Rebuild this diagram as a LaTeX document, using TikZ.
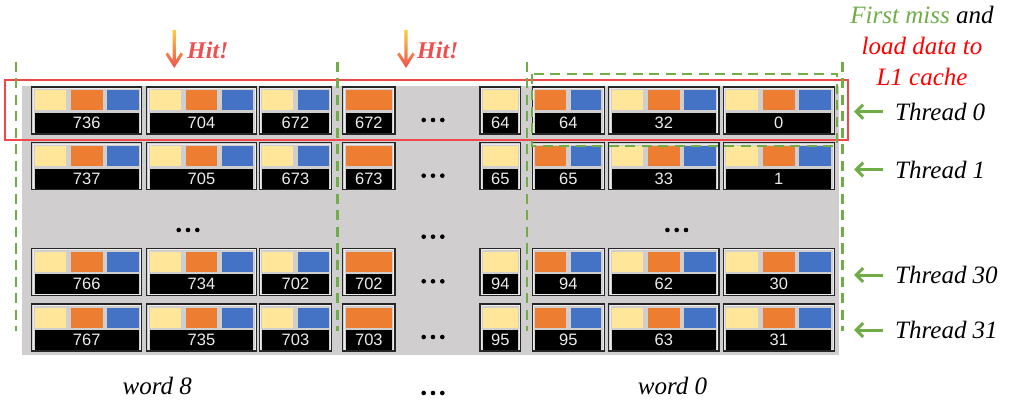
\documentclass[tikz,border=0pt]{standalone}
\usepackage{fontspec}
\setmainfont{Liberation Serif}
\newfontfamily\numfont{Liberation Sans}
\usetikzlibrary{arrows.meta}
\definecolor{cy}{HTML}{FFE699}
\definecolor{co}{HTML}{ED7D31}
\definecolor{cb}{HTML}{4472C4}
\definecolor{cbg}{HTML}{D0CECE}
\definecolor{cgr}{HTML}{70AD47}
\definecolor{cred}{HTML}{F04848}
\definecolor{hitred}{HTML}{EE5050}
\definecolor{hity}{HTML}{FFCC40}
% #1 name, #2 x, #3 width, #4 top, #5 number, #6 count, #7 colours
\newcommand{\blk}[7]{%
  \node[blockbox, minimum width=#3, anchor=north west] (#1) at (#2,#4) {};
  \draw[gray!15, line width=0.7] ([shift={(1.3,1.3)}]#1.north west) rectangle ([shift={(-1.3,-1.3)}]#1.south east);
  \pgfmathsetmacro\sqw{(#3-6-(#6-1)*4.5)/#6}%
  \foreach \sqc [count=\si from 0] in {#7} {
    \fill[\sqc] ({#2+3+\si*(\sqw+4.5)},{#4+3.5}) rectangle ++(\sqw,20);
  }
  \node[numbar, minimum width={#3-6}, anchor=north west] (#1n) at ({#2+3},{#4+26}) {#5};
}
\newcommand{\threedots}[3]{%
  \coordinate (#1) at (#2,#3);
  \foreach \dx in {-9.3,0,9.3} { \fill ([xshift=\dx pt]#1) circle (2.3); }
}
\begin{document}
\begin{tikzpicture}[x=1pt,y=-1pt,
  blockbox/.style={draw=black!85, line width=1.3pt, fill=cbg, minimum height=47, inner sep=0, outer sep=0},
  numbar/.style={fill=black, text=white!92!black, minimum height=20, inner sep=0, outer sep=0, font=\numfont\fontsize{16.5}{17}\selectfont},
  lab/.style={font=\fontsize{25}{31}\selectfont\itshape, inner sep=0},
  hit/.style={font=\fontsize{24}{28}\selectfont\bfseries\itshape, text=hitred, inner sep=0},
  gdash/.style={draw=cgr, line width=2.8pt, dash pattern=on 10pt off 6.5pt},
  tarrow/.style={draw=cgr, line width=3pt, -{Straight Barb[length=7pt,width=14pt]}}
]
\useasboundingbox (0,0) rectangle (1012,406);
\fill[cbg] (22,86) rectangle (839,355);

\foreach \ty/\rid/\na/\nb/\nc/\nd/\ne/\nf in {87/0/736/704/672/64/32/0, 142.7/1/737/705/673/65/33/1, 248.3/30/766/734/702/94/62/30, 304/31/767/735/703/95/63/31} {
  \blk{bA\rid}{31.7}{110}{\ty}{\na}{3}{cy,co,cb}
  \blk{bB\rid}{146.7}{109.6}{\ty}{\nb}{3}{cy,co,cb}
  \blk{bC\rid}{259.3}{72.4}{\ty}{\nc}{2}{cy,cb}
  \blk{bD\rid}{342.7}{52.3}{\ty}{\nc}{1}{co}
  \blk{bE\rid}{480}{40.7}{\ty}{\nd}{1}{cy}
  \blk{bF\rid}{532.3}{72}{\ty}{\nd}{2}{co,cb}
  \blk{bG\rid}{608.7}{110.3}{\ty}{\ne}{3}{cy,co,cb}
  \blk{bH\rid}{723.3}{111}{\ty}{\nf}{3}{cy,co,cb}
  \threedots{dm\rid}{433}{\ty+33}
}
\threedots{dleft}{188}{230}
\threedots{dmid}{433}{236.7}
\threedots{dright}{676.7}{230}
\threedots{dbottom}{433}{393}

% red frame and green dashed marks
\draw[cred, line width=1.4pt] (5,80) rectangle (848,140);
\draw[gdash] (532,74) rectangle (837,146);
\foreach \gx in {16,337.5,527,842.7} { \draw[gdash] (\gx,62) -- (\gx,331); }

% hit arrows
\foreach \hx/\hn in {174.3/1,406/2} {
  \shade[top color=hity, bottom color=hitred]
    ({\hx-1.6},30) -- ({\hx+1.6},30) -- ({\hx+1.6},60) -- ({\hx+6.5},52.5) -- ({\hx+8.8},54.3)
    -- (\hx,68) -- ({\hx-8.8},54.3) -- ({\hx-6.5},52.5) -- ({\hx-1.6},60) -- cycle;
}
\node[hit, anchor=west] (hit1) at (187,50) {Hit!};
\node[hit, anchor=west] (hit2) at (417,50) {Hit!};

% first miss text
\node[lab, align=center] (miss) at (922,46) {{\color{cgr}First miss} and\\{\color{red}load data to}\\{\color{red}L1 cache}};

% thread labels
\foreach \yy/\tn in {111.7/0,169.5/1,275/30,330/31} {
  \node[lab, anchor=west] (th\tn) at (895,\yy) {Thread \tn};
  \coordinate (as\tn) at (883,\yy);
  \coordinate (ae\tn) at (854,\yy);
  \draw[tarrow] (as\tn) -- (ae\tn);
}

% bottom labels
\node[lab] (w8) at (157.2,386) {word 8};
\node[lab] (w0) at (672.5,386) {word 0};
\end{tikzpicture}
\end{document}
